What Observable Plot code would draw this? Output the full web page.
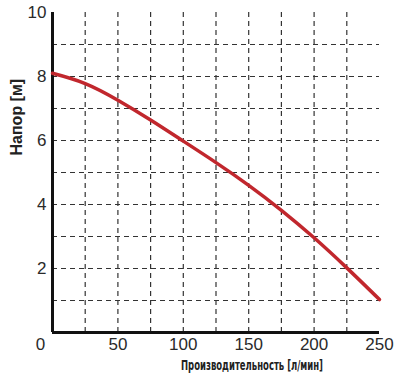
<!DOCTYPE html>
<html>
<head>
<meta charset="utf-8">
<script src="https://cdn.jsdelivr.net/npm/d3@7"></script>
<script src="https://cdn.jsdelivr.net/npm/@observablehq/plot@0.6"></script>
<style>
  html, body { margin: 0; padding: 0; background: #fff; }
</style>
</head>
<body>
<div id="chart"></div>
<script>
const flow = [0, 25, 50, 75, 100, 125, 150, 175, 200, 225, 250];
const head = [8.1, 7.78, 7.26, 6.64, 5.98, 5.31, 4.6, 3.82, 2.96, 2.02, 1.03];
const xTicks = [0, 50, 100, 150, 200, 250];
const yTicks = [2, 4, 6, 8, 10];
const xGrid = [25, 50, 75, 100, 125, 150, 175, 200, 225];
const yGrid = [1, 2, 3, 4, 5, 6, 7, 8, 9];
const xTitle = "Производительность [л/мин]";
const yTitle = "Напор [м]";

const data = flow.map((f, i) => ({flow: f, head: head[i]}));

const chart = Plot.plot({
  width: 400,
  height: 380,
  marginLeft: 52,
  marginRight: 21,
  marginTop: 12,
  marginBottom: 48,
  style: {fontFamily: "'Liberation Sans', Arial, sans-serif", background: "#fff", color: "#2a2a2a"},
  x: {domain: [0, 250]},
  y: {domain: [0, 10]},
  marks: [
    Plot.ruleX(xGrid, {stroke: "#333", strokeWidth: 1.2, strokeDasharray: "5,4", strokeOpacity: 1}),
    Plot.ruleY(yGrid, {stroke: "#333", strokeWidth: 1.2, strokeDasharray: "5,4", strokeOpacity: 1}),
    Plot.axisX([0], {tickSize: 0, tickPadding: 5, fontSize: 17, dx: -12, label: null}),
    Plot.axisX(xTicks.slice(1), {tickSize: 0, tickPadding: 5, fontSize: 17, label: null}),
    Plot.axisY(yTicks, {tickSize: 0, tickPadding: 6, fontSize: 17, label: null}),
    Plot.ruleX([0], {stroke: "#111", strokeWidth: 3}),
    Plot.ruleY([0], {stroke: "#111", strokeWidth: 3}),
    Plot.line(data, {x: "flow", y: "head", stroke: "#c1272d", strokeWidth: 3.5, curve: "natural"}),
    Plot.text([yTitle], {frameAnchor: "left", rotate: -90, dx: -36, dy: -17, fontSize: 16, fontWeight: "bold", fill: "#222"}),
    Plot.text([xTitle], {frameAnchor: "bottom", dx: 36, dy: 37, fontSize: 14, fontWeight: "bold",
      fontFamily: "'DejaVu Sans Condensed', 'Liberation Sans', sans-serif", fill: "#222", className: "xtitle"})
  ]
});
d3.select(chart).selectAll(".xtitle text")
  .attr("textLength", 142)
  .attr("lengthAdjust", "spacingAndGlyphs");
document.getElementById("chart").appendChild(chart);
</script>
</body>
</html>
